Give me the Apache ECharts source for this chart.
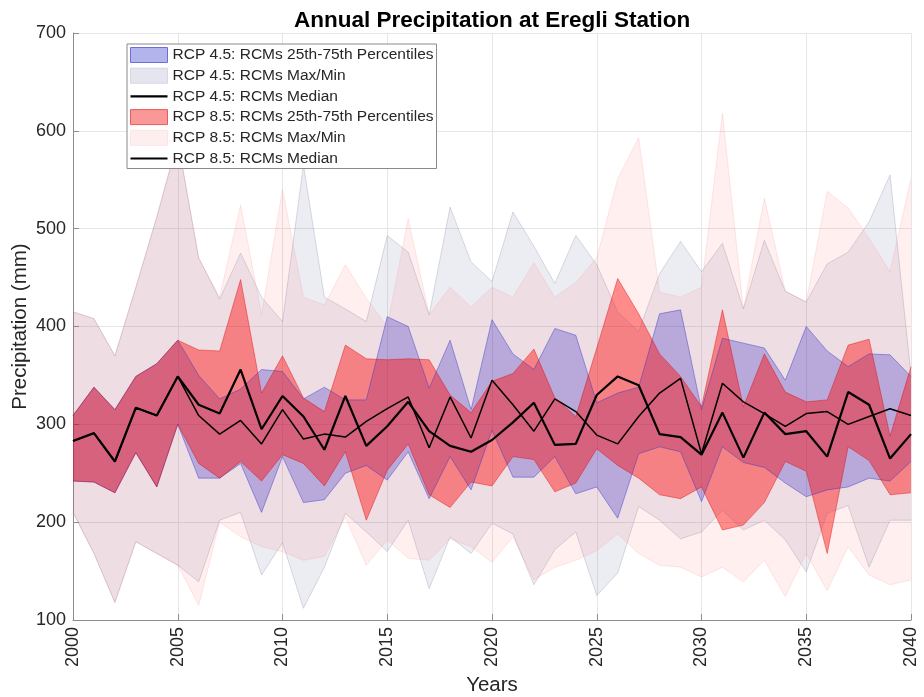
<!DOCTYPE html>
<html><head><meta charset="utf-8">
<script src="https://cdn.jsdelivr.net/npm/echarts@6/dist/echarts.min.js"></script>
<style>html,body{margin:0;padding:0;background:#fff}#c{width:924px;height:697px}</style>
</head><body><div id="c"></div>
<script>
const years = [2000,2001,2002,2003,2004,2005,2006,2007,2008,2009,2010,2011,2012,2013,2014,2015,2016,2017,2018,2019,2020,2021,2022,2023,2024,2025,2026,2027,2028,2029,2030,2031,2032,2033,2034,2035,2036,2037,2038,2039,2040];
const rcp45Min = [210,168,118,180,168,156,139,202,210,146, 179,112,154,209,190,170,202,132,185,168, 199,188,136,172,190,125,148,216,202,183, 190,212,192,202,182,149,209,217,154,202, 202];
const rcp45Max = [415,408,370,440,512,590,470,428,475,430, 405,565,430,418,405,493,476,412,522,466, 446,517,482,444,493,463,415,395,454,487, 456,485,418,488,436,425,464,476,507,555, 350];
const rcp45P25 = [242,241,230,271,236,300,245,245,260,210, 267,220,223,250,258,243,272,224,267,233, 294,246,246,267,229,236,204,270,277,272, 221,277,261,256,240,226,233,236,245,242, 262];
const rcp45P75 = [309,338,315,349,362,386,350,326,336,356, 354,326,338,325,325,410,400,337,386,315, 407,372,356,398,391,322,332,338,413,417, 315,388,383,378,345,400,375,359,372,371, 349];
const rcp45Med = [283,291,262,317,309,349,309,290,304,280, 315,285,290,287,303,316,328,276,328,286, 345,320,293,326,313,289,280,308,332,347, 270,342,323,311,298,311,313,300,308,316, 309];
const rcp85Min = [210,168,118,180,168,156,115,200,185,175, 170,161,165,205,156,182,163,161,183,175, 159,185,141,154,161,171,188,168,156,154, 144,154,139,161,124,168,130,175,146,136, 141];
const rcp85Max = [415,408,370,440,512,590,470,430,524,412, 540,430,422,463,429,400,510,412,440,420, 440,430,465,430,445,470,551,593,435,430, 440,618,418,531,436,425,538,521,490,456, 551];
const rcp85P25 = [242,241,230,271,236,300,260,245,262,242, 269,260,237,272,202,253,280,228,215,241, 237,267,264,231,240,275,258,245,228,224, 236,192,197,220,262,252,168,277,263,228, 230];
const rcp85P75 = [309,338,315,349,362,386,376,375,448,332, 370,327,313,381,367,366,367,366,330,312, 344,352,377,327,308,378,449,413,372,349, 318,417,318,372,333,323,325,381,387,288, 359];
const rcp85Med = [283,291,262,317,309,349,320,311,356,295, 329,308,274,329,278,298,323,293,278,272, 284,302,322,279,280,330,349,340,290,287, 269,312,266,312,290,293,267,333,320,265, 290];

const names = ['RCP 4.5: RCMs 25th-75th Percentiles','RCP 4.5: RCMs Max/Min','RCP 4.5: RCMs Median',
               'RCP 8.5: RCMs 25th-75th Percentiles','RCP 8.5: RCMs Max/Min','RCP 8.5: RCMs Median'];
const FONT = "'Liberation Sans', Arial, Helvetica, sans-serif";
const LINE_ICON = 'path://M0,0L0.01,0L0.01,0.01Z M0,6.4L37,6.4L37,8.6L0,8.6Z M36.99,14.99L37,14.99L37,15Z';

function band(name, low, high, stackId, fill, edge) {
  return [
    { type:'line', name: name + ' (lower)', stack: stackId, symbol:'none', silent:true,
      data: low.slice(), lineStyle:{width:0.8, color:edge}, itemStyle:{color:edge} },
    { type:'line', name: name, stack: stackId, symbol:'none', silent:true,
      data: high.map((h,i)=>h-low[i]), lineStyle:{width:0.8, color:edge},
      areaStyle:{color:fill, opacity:1}, itemStyle:{color:fill} }
  ];
}
function median(name, vals, w) {
  return { type:'line', name: name, symbol:'none', silent:true,
    data: vals.slice(), lineStyle:{width:w, color:'#000'}, itemStyle:{color:'#000'} };
}

const series = [].concat(
  band(names[1], rcp45Min, rcp45Max, 'mm45', 'rgba(100,100,160,0.12)', 'rgba(110,110,150,0.3)'),
  band(names[0], rcp45P25, rcp45P75, 'pc45', 'rgba(0,0,200,0.25)', 'rgba(50,50,200,0.55)'),
  [median(names[2], rcp45Med, 1.5)],
  band(names[4], rcp85Min, rcp85Max, 'mm85', 'rgba(255,100,100,0.1)', 'rgba(255,120,120,0.22)'),
  band(names[3], rcp85P25, rcp85P75, 'pc85', 'rgba(255,0,0,0.42)', 'rgba(220,0,0,0.5)'),
  [median(names[5], rcp85Med, 2.2)]
);

const chart = echarts.init(document.getElementById('c'), null, {renderer:'canvas'});
chart.setOption({
  animation:false,
  backgroundColor:'#fff',
  title:{ text:'Annual Precipitation at Eregli Station', left:289, top:4,
    textStyle:{fontFamily:FONT, fontSize:22.5, fontWeight:'bold', color:'#000'} },
  grid:{ left:73, right:13, top:33, bottom:77, containLabel:false, outerBoundsMode:'none' },
  legend:{
    orient:'vertical', left:127, top:44, padding:[3,3,2,3], z:10,
    itemWidth:37, itemHeight:15, itemGap:4.7, selectedMode:false,
    backgroundColor:'#fff', borderColor:'#8a8a8a', borderWidth:1, borderRadius:0,
    textStyle:{fontFamily:FONT, fontSize:15.5, color:'#262626'},
    data:[
      {name:names[0], icon:'rect', itemStyle:{color:'rgb(180,180,236)', borderColor:'rgb(110,110,215)', borderWidth:1}},
      {name:names[1], icon:'rect', itemStyle:{color:'rgb(229,229,239)', borderColor:'rgb(215,215,228)', borderWidth:1}},
      {name:names[2], icon:LINE_ICON, itemStyle:{color:'#000', borderWidth:0}},
      {name:names[3], icon:'rect', itemStyle:{color:'rgb(250,152,152)', borderColor:'rgb(235,90,90)', borderWidth:1}},
      {name:names[4], icon:'rect', itemStyle:{color:'rgb(254,239,239)', borderColor:'rgb(252,228,228)', borderWidth:1}},
      {name:names[5], icon:LINE_ICON, itemStyle:{color:'#000', borderWidth:0}}
    ]
  },
  xAxis:{ type:'category', data: years.map(String), boundaryGap:false,
    name:'Years', nameLocation:'middle', nameGap:55,
    nameTextStyle:{fontFamily:FONT, fontSize:20.5, color:'#262626'},
    axisLine:{show:true, onZero:false, lineStyle:{color:'#8c8c8c', width:1}},
    axisTick:{show:true, inside:true, length:6, interval:4, lineStyle:{color:'#8c8c8c'}},
    axisLabel:{rotate:90, margin:7, interval:4, fontFamily:FONT, fontSize:18, color:'#262626'},
    splitLine:{show:true, interval:4, lineStyle:{color:'#e6e6e6', width:1}} },
  yAxis:{ type:'value', min:100, max:700, interval:100,
    name:'Precipitation (mm)', nameLocation:'middle', nameGap:42, nameMoveOverlap:false,
    nameTextStyle:{fontFamily:FONT, fontSize:20.5, color:'#262626'},
    axisLine:{show:true, lineStyle:{color:'#8c8c8c', width:1}},
    axisTick:{show:true, inside:true, length:6, lineStyle:{color:'#8c8c8c'}},
    axisLabel:{margin:7, fontFamily:FONT, fontSize:18, color:'#262626'},
    splitLine:{show:true, lineStyle:{color:'#e6e6e6', width:1}} },
  series: series
});
</script></body></html>
